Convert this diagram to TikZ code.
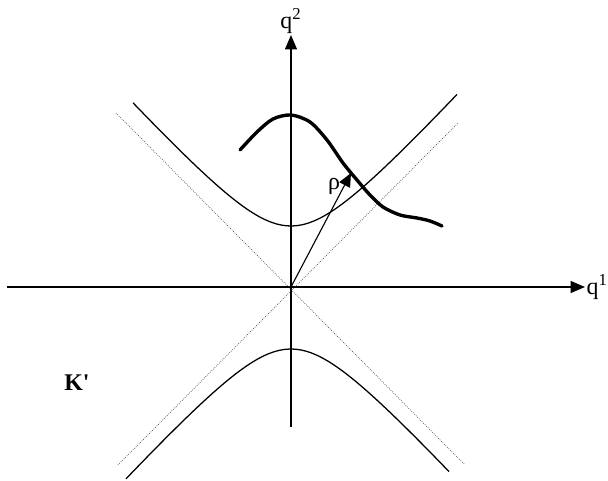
\documentclass[tikz,border=0pt]{standalone}
\usepackage{fontspec}
\setmainfont{Liberation Serif}
\usetikzlibrary{positioning, arrows.meta}
\newcommand\ha{0.61}

\begin{document}
\begin{tikzpicture}[x=0.025cm, y=0.025cm, font=\fontsize{17}{20}\selectfont,
    axis/.style={line width=0.8pt, -{Triangle[length=0.36cm, width=0.3cm]}},
    asym/.style={line width=0.5pt, densely dotted, black!75},
    hyp/.style={line width=0.9pt},
    wave/.style={line width=2.4pt, line cap=round},
    vec/.style={line width=0.8pt, -{Triangle[length=0.34cm, width=0.3cm]}}]
    \useasboundingbox (-291,-194) rectangle (317,287);
    % axes
    \coordinate (o) at (0,0);
    \coordinate (xl) at (-284,0);
    \coordinate (xr) at (294,0);
    \coordinate (yb) at (0,-140);
    \coordinate (yt) at (0,252);
    \draw[axis] (xl) -- (xr);
    \draw[axis] (yb) -- (yt);
    \node (qone) [right=0pt of xr, inner sep=1pt] {q\textsuperscript{1}};
    \node (qtwo) [above=0pt of yt, inner sep=1pt] {q\textsuperscript{2}};
    % light cone
    \coordinate (a1) at (-175,174);
    \coordinate (a2) at (174,-178);
    \coordinate (a3) at (-173,-178);
    \coordinate (a4) at (167,164);
    \draw[asym] (a1) -- (a2);
    \draw[asym] (a3) -- (a4);
    % hyperbolas
    \draw[hyp] plot[domain=-158:166, samples=60] (\x, {100*sqrt(\ha*\ha+(0.011*\x)^2)});
    \draw[hyp] plot[domain=-165:158, samples=60] (\x, {-100*sqrt(0.62*0.62+(0.011*\x)^2)});
    % wave packet
    \draw[wave] plot[smooth] coordinates {(-51,137) (-34,155) (-18,168) (0,172) (19,165) (36,147) (52,124) (66,107) (79,92) (92,80) (109,72) (126,69) (139,66) (151,61)};
    % vector rho
    \coordinate (rt) at (60,114);
    \draw[vec] (o) -- (rt);
    \node (rho) at (43,101) {ρ};
    \node (kp) at (-214,-96) {\textbf{K\textquotesingle}};
\end{tikzpicture}
\end{document}
